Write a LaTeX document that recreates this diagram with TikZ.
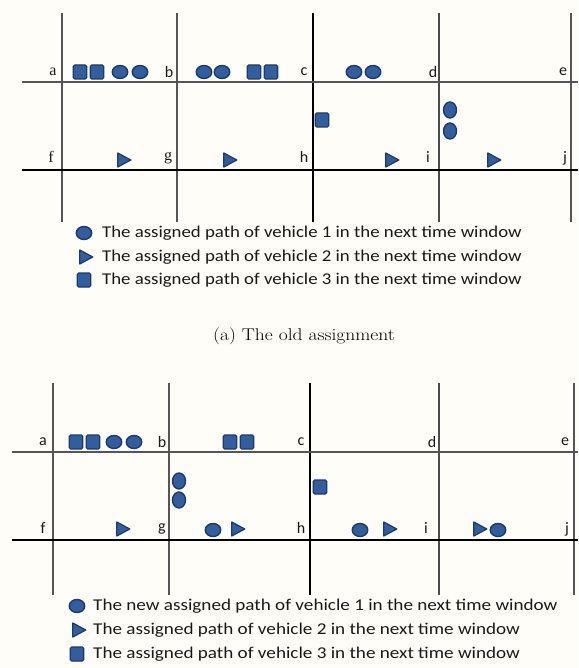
\documentclass[tikz,border=0pt]{standalone}
\usepackage{fontspec}
\setmainfont{Carlito}
\newfontfamily\serifl{Liberation Serif}
\newfontfamily\lmr{Latin Modern Roman}
\usetikzlibrary{shapes.geometric}
\definecolor{bgc}{RGB}{254,253,247}
\definecolor{mfill}{RGB}{50,94,158}
\definecolor{mdraw}{RGB}{28,58,108}
\definecolor{thin}{RGB}{85,85,85}
\definecolor{txt}{RGB}{25,25,25}
\tikzset{
  ci/.style={draw=mdraw, fill=mfill, line width=1.4pt, ellipse, minimum width=15.5pt, minimum height=13pt, inner sep=0pt},
  sq/.style={draw=mdraw, fill=mfill, line width=1.3pt, rectangle, rounded corners=1.5pt, minimum width=13.5pt, minimum height=14pt, inner sep=0pt},
  tri/.style={draw=mdraw, fill=mfill, line width=1.2pt, isosceles triangle, isosceles triangle stretches, minimum width=14pt, minimum height=13pt, inner sep=0pt, line join=round},
  lab/.style={font=\fontsize{16}{18}\selectfont, text=txt, inner sep=0pt},
  slab/.style={font=\serifl\fontsize{16}{18}\selectfont, text=txt, inner sep=0pt},
  leg/.style={font=\fontsize{16.5}{19}\selectfont, text=txt, anchor=west, inner sep=0pt},
  captext/.style={font=\lmr\fontsize{17}{20}\selectfont, text=black, inner sep=0pt},
  road/.style={draw=thin, line width=1.2pt},
  mainroad/.style={draw=black, line width=2pt},
  vthin/.style={draw=thin, line width=1.1pt},
  vmid/.style={draw=black!70, line width=1.5pt},
  vthick/.style={draw=black, line width=2.4pt}
}
\begin{document}
\begin{tikzpicture}[x=1pt,y=-1pt]
\fill[bgc] (0,0) rectangle (578,668);
\useasboundingbox (0,0) rectangle (578,668);
% ---------- top panel ----------
\draw[vthin] (62,13) -- (62,222);
\draw[vthin] (177,13) -- (177,222);
\draw[vthick] (313,13) -- (313,222);
\draw[vmid] (439,13) -- (439,222);
\draw[vthin] (571,13) -- (571,222);
\draw[road] (22,82) -- (578,82);
\draw[mainroad] (22,170) -- (578,170);
\node[slab] (ta) at (53,72) {a};
\node[lab] (tb) at (169,72) {b};
\node[lab] (tc) at (304,72) {c};
\node[lab] (td) at (433,72) {d};
\node[lab] (te) at (563,72) {e};
\node[slab] (tf) at (51,157) {f};
\node[slab] (tg) at (168,158) {g};
\node[lab] (th) at (304,157) {h};
\node[lab] (ti) at (428,157) {i};
\node[lab] (tj) at (565,158) {j};
\node[sq] (t1) at (80,72) {};
\node[sq] (t2) at (97,72) {};
\node[ci] (t3) at (120,72) {};
\node[ci] (t4) at (140,72) {};
\node[ci] (t5) at (204,72) {};
\node[ci] (t6) at (222,72) {};
\node[sq] (t7) at (254,72) {};
\node[sq] (t8) at (271,72) {};
\node[ci] (t9) at (354,72) {};
\node[ci] (t10) at (373,72) {};
\node[sq] (t11) at (322,120) {};
\node[ci, minimum width=13pt, minimum height=16pt] (t12) at (450,110) {};
\node[ci, minimum width=13pt, minimum height=16pt] (t13) at (450,131) {};
\node[tri] (t14) at (122,160) {};
\node[tri] (t15) at (228,160) {};
\node[tri] (t16) at (390,160) {};
\node[tri] (t17) at (492,160) {};
% legend top
\node[ci] (tl1) at (84,233) {};
\node[tri] (tl2) at (84,257) {};
\node[sq] (tl3) at (84,280) {};
\node[leg] (tx1) at (102,233) {\scalebox{1.14}[1]{The assigned path of vehicle 1 in the next time window}};
\node[leg] (tx2) at (102,257) {\scalebox{1.14}[1]{The assigned path of vehicle 2 in the next time window}};
\node[leg] (tx3) at (102,280) {\scalebox{1.14}[1]{The assigned path of vehicle 3 in the next time window}};
\node[captext] (capa) at (304,336) {\scalebox{1.15}[1]{(a) The old assignment}};
% ---------- bottom panel ----------
\draw[vthin] (53,383) -- (53,595);
\draw[vthin] (169,383) -- (169,595);
\draw[vthick] (310,383) -- (310,595);
\draw[vmid] (439,383) -- (439,595);
\draw[vthin] (574,383) -- (574,595);
\draw[road] (12,452) -- (578,452);
\draw[mainroad] (12,540) -- (578,540);
\node[lab] (ba) at (43,442) {a};
\node[lab] (bb) at (162,442) {b};
\node[lab] (bc) at (301,442) {c};
\node[lab] (bd) at (432,442) {d};
\node[lab] (be) at (565,442) {e};
\node[lab] (bf) at (43,528) {f};
\node[lab] (bg) at (162,529) {g};
\node[lab] (bh) at (301,528) {h};
\node[lab] (bi) at (426,528) {i};
\node[lab] (bj) at (567,529) {j};
\node[sq] (b1) at (76,442) {};
\node[sq] (b2) at (93,442) {};
\node[ci] (b3) at (114,442) {};
\node[ci] (b4) at (134,442) {};
\node[sq] (b5) at (230,442) {};
\node[sq] (b6) at (247,442) {};
\node[ci, minimum width=13pt, minimum height=16pt] (b7) at (179,481) {};
\node[ci, minimum width=13pt, minimum height=16pt] (b8) at (179,500) {};
\node[sq] (b9) at (320,487) {};
\node[tri] (b10) at (121,529) {};
\node[ci] (b11) at (213,530) {};
\node[tri] (b12) at (236,529) {};
\node[ci] (b13) at (360,530) {};
\node[tri] (b14) at (388,529) {};
\node[tri] (b15) at (478,529) {};
\node[ci] (b16) at (498,530) {};
% legend bottom
\node[ci] (bl1) at (77,606) {};
\node[tri] (bl2) at (77,630) {};
\node[sq] (bl3) at (77,654) {};
\node[leg] (bx1) at (93,606) {\scalebox{1.16}[1]{The new assigned path of vehicle 1 in the next time window}};
\node[leg] (bx2) at (93,630) {\scalebox{1.16}[1]{The assigned path of vehicle 2 in the next time window}};
\node[leg] (bx3) at (93,654) {\scalebox{1.16}[1]{The assigned path of vehicle 3 in the next time window}};
\end{tikzpicture}
\end{document}
